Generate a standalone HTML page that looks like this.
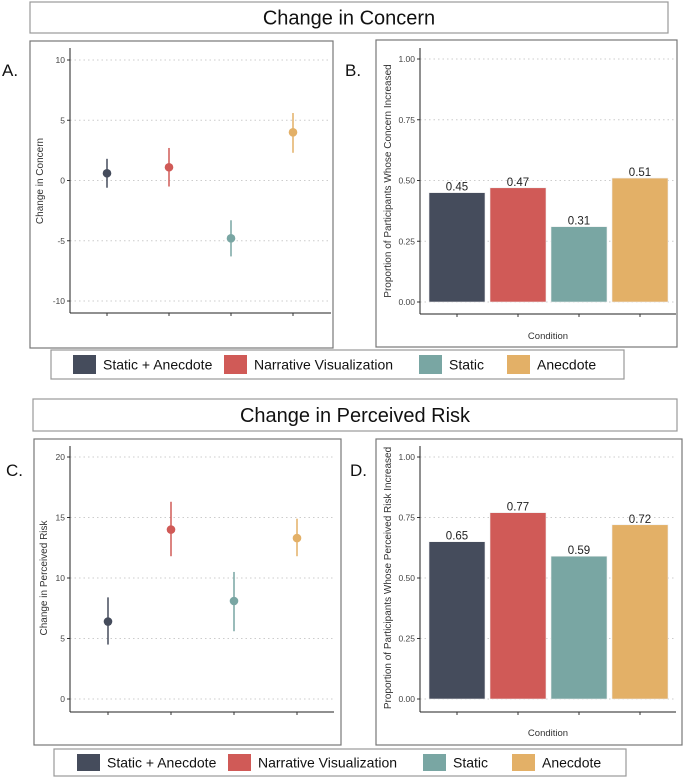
<!DOCTYPE html>
<html><head><meta charset="utf-8"><style>
body{margin:0;background:#fff;width:685px;height:778px;overflow:hidden;font-family:"Liberation Sans",sans-serif}
</style></head><body>
<svg id="svg" width="685" height="778" xmlns="http://www.w3.org/2000/svg" font-family="Liberation Sans, sans-serif"></svg>
<script>
const categories=["Static + Anecdote","Narrative Visualization","Static","Anecdote"];
const colors=["#454c5c","#d05a57","#79a6a3","#e3b067"];
const concernMean=[0.6,1.1,-4.8,4.0];
const concernLo=[-0.6,-0.5,-6.3,2.3];
const concernHi=[1.8,2.7,-3.3,5.6];
const concernTicks=[-10,-5,0,5,10];
const concernProp=[0.45,0.47,0.31,0.51];
const riskMean=[6.4,14.0,8.1,13.3];
const riskLo=[4.5,11.8,5.6,11.8];
const riskHi=[8.4,16.3,10.5,14.9];
const riskTicks=[0,5,10,15,20];
const riskProp=[0.65,0.77,0.59,0.72];
const propTicks=[0,0.25,0.5,0.75,1.0];

const NS="http://www.w3.org/2000/svg";
const svg=document.getElementById('svg');
function el(tag,attrs,parent,text){const e=document.createElementNS(NS,tag);for(const k in attrs)e.setAttribute(k,attrs[k]);if(text!==undefined)e.textContent=text;(parent||svg).appendChild(e);return e;}

function titleBox(x,y,w,h,text,name){
  const r=el('rect',{x:x,y:y,width:w,height:h,fill:'#fff',stroke:'#999','stroke-width':1.2});
  
  const t=el('text',{x:x+w/2,y:y+h/2+7,'text-anchor':'middle','font-size':20,fill:'#111'},null,text);
  
}
function legend(x,y,w,h,sx,name){
  const g=el('g',{});
  el('rect',{x:x,y:y,width:w,height:h,fill:'#fff',stroke:'#999','stroke-width':1.2},g);
  categories.forEach((c,i)=>{
    const e=el('g',{},g);
    
    
    el('rect',{x:sx[i],y:y+5,width:23,height:h-10,fill:colors[i]},e);
    el('text',{x:sx[i]+30,y:y+h/2+5,'font-size':14,fill:'#111'},e,c);
  });
}
function pointPanel(o){
  const g=el('g',{});
  el('rect',{x:o.bx,y:o.by,width:o.bw,height:o.bh,fill:'#fff',stroke:'#777','stroke-width':1.2},g);
  const lab=el('text',{x:o.lx,y:o.ly,'font-size':17,fill:'#111'},null,o.letter);
  
  const tmin=o.ticks[0],tmax=o.ticks[o.ticks.length-1];
  const Y=v=>o.y0+(v-tmin)/(tmax-tmin)*(o.y1-o.y0);
  const X=i=>o.xs+i*o.xstep;
  o.ticks.forEach(t=>{
    el('line',{x1:o.ax,x2:o.ax+o.aw,y1:Y(t),y2:Y(t),stroke:'#ccc','stroke-dasharray':'1.5 3'},g);
    el('line',{x1:o.ax-3,x2:o.ax,y1:Y(t),y2:Y(t),stroke:'#333'},g);
    el('text',{x:o.ax-5,y:Y(t)+3,'text-anchor':'end','font-size':8.5,fill:'#444'},g,o.fmt(t));
  });
  el('line',{x1:o.ax,x2:o.ax,y1:o.atop,y2:o.axy,stroke:'#222','stroke-width':1},g);
  el('line',{x1:o.ax,x2:o.ax+o.aw,y1:o.axy,y2:o.axy,stroke:'#222','stroke-width':1},g);
  categories.forEach((c,i)=>el('line',{x1:X(i),x2:X(i),y1:o.axy,y2:o.axy+3,stroke:'#333'},g));
  const yl=el('text',{x:0,y:0,transform:`translate(${o.ylx},${o.yly}) rotate(-90)`,'text-anchor':'middle','font-size':10,fill:'#333'},g,o.ytitle);
  
  if(o.mean){
    o.mean.forEach((m,i)=>{
      const l=el('line',{x1:X(i),x2:X(i),y1:Y(o.lo[i]),y2:Y(o.hi[i]),stroke:colors[i],'stroke-width':1.5},g);
      
      const p=el('circle',{cx:X(i),cy:Y(m),r:4.3,fill:colors[i]},g);
      
    });
  }
  if(o.bars){
    o.bars.forEach((v,i)=>{
      const b=el('rect',{x:X(i)-o.bwid/2,y:Y(v),width:o.bwid,height:Y(0)-Y(v),fill:colors[i],stroke:'#eee','stroke-width':0.6},g);
      
      const t=el('text',{x:X(i),y:Y(v)-2,'text-anchor':'middle','font-size':11.5,fill:'#222'},g,v.toFixed(2));
      
    });
    const xt=el('text',{x:o.ax+o.aw/2,y:o.cy,'text-anchor':'middle','font-size':9.5,fill:'#333'},g,'Condition');
    
  }
}
titleBox(30,2,638,31,'Change in Concern','title-concern');
pointPanel({name:'panel-a',letter:'A.',lx:2,ly:76,bx:30,by:41,bw:303,bh:307,ax:70,aw:261,atop:48,axy:313,y0:301,y1:60,ticks:concernTicks,fmt:t=>String(t),xs:107,xstep:62,ylx:43,yly:181,ytitle:'Change in Concern',mean:concernMean,lo:concernLo,hi:concernHi});
pointPanel({name:'panel-b',letter:'B.',lx:345,ly:76,bx:376,by:40,bw:301,bh:307,ax:420,aw:256,atop:48,axy:314,y0:302,y1:59,ticks:propTicks,fmt:t=>t.toFixed(2),xs:457,xstep:61,bwid:56,ylx:391,yly:181,ytitle:'Proportion of Participants Whose Concern Increased',bars:concernProp,cy:339});
legend(51,350,573,29,[73,224,419,507],'legend-top');
titleBox(33,399,644,32,'Change in Perceived Risk','title-risk');
pointPanel({name:'panel-c',letter:'C.',lx:6,ly:476,bx:34,by:439,bw:307,bh:306,ax:70,aw:264,atop:446,axy:712,y0:699,y1:457,ticks:riskTicks,fmt:t=>String(t),xs:108,xstep:63,ylx:47,yly:578,ytitle:'Change in Perceived Risk',mean:riskMean,lo:riskLo,hi:riskHi});
pointPanel({name:'panel-d',letter:'D.',lx:350,ly:476,bx:376,by:439,bw:306,bh:306,ax:420,aw:256,atop:446,axy:712,y0:699,y1:457,ticks:propTicks,fmt:t=>t.toFixed(2),xs:457,xstep:61,bwid:56,ylx:391,yly:578,ytitle:'Proportion of Participants Whose Perceived Risk Increased',bars:riskProp,cy:736});
legend(54,749,572,27,[77,228,423,512],'legend-bottom');
</script>
</body></html>
